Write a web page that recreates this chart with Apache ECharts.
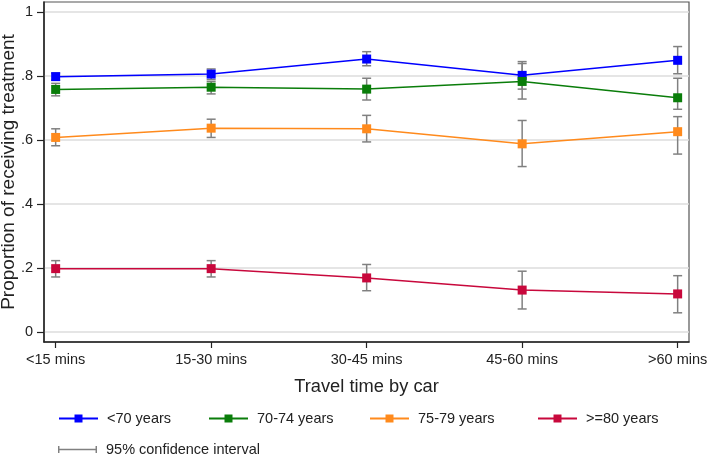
<!DOCTYPE html>
<html>
<head>
<meta charset="utf-8">
<script src="https://cdn.jsdelivr.net/npm/echarts@6/dist/echarts.min.js"></script>
<style>html,body{margin:0;padding:0;background:#fff;}#c{width:709px;height:461px;}</style>
</head>
<body>
<div id="c"></div>
<script>
var categories = ['<15 mins', '15-30 mins', '30-45 mins', '45-60 mins', '>60 mins'];
var yTicks = [0, 0.2, 0.4, 0.6, 0.8, 1];
var yTickLabels = ['0', '.2', '.4', '.6', '.8', '1'];

var ageNames = ['<70 years', '70-74 years', '75-79 years', '>=80 years'];
var ciName = '95% confidence interval';

var lt70   = [0.798, 0.806, 0.853, 0.802, 0.849];
var lt70Lo = [0.787, 0.789, 0.832, 0.759, 0.807];
var lt70Hi = [0.809, 0.822, 0.876, 0.845, 0.892];

var a7074   = [0.758, 0.765, 0.759, 0.783, 0.732];
var a7074Lo = [0.738, 0.744, 0.725, 0.728, 0.696];
var a7074Hi = [0.777, 0.783, 0.793, 0.839, 0.793];

var a7579   = [0.608, 0.637, 0.635, 0.588, 0.626];
var a7579Lo = [0.582, 0.608, 0.594, 0.517, 0.556];
var a7579Hi = [0.635, 0.665, 0.677, 0.661, 0.673];

var ge80   = [0.198, 0.198, 0.169, 0.131, 0.119];
var ge80Lo = [0.172, 0.172, 0.129, 0.072, 0.060];
var ge80Hi = [0.223, 0.223, 0.211, 0.190, 0.176];

var colors = ['#0000ff', '#0a7d0a', '#ff8a1c', '#c8083c'];
var FONT = '"Liberation Sans", Arial, sans-serif';

var groups = [
  {name: ageNames[0], v: lt70, lo: lt70Lo, hi: lt70Hi},
  {name: ageNames[1], v: a7074, lo: a7074Lo, hi: a7074Hi},
  {name: ageNames[2], v: a7579, lo: a7579Lo, hi: a7579Hi},
  {name: ageNames[3], v: ge80, lo: ge80Lo, hi: ge80Hi}
];

var xIdx = categories.map(function (c, i) { return i; });

function errRender(params, api) {
  var x = api.value(0);
  var p1 = api.coord([x, api.value(1)]);
  var p2 = api.coord([x, api.value(2)]);
  var hw = 4.5;
  var st = {stroke: '#808080', lineWidth: 1.5, fill: null};
  return {
    type: 'group',
    children: [
      {type: 'line', shape: {x1: p1[0], y1: p1[1], x2: p2[0], y2: p2[1]}, style: st},
      {type: 'line', shape: {x1: p1[0] - hw, y1: p1[1], x2: p1[0] + hw, y2: p1[1]}, style: st},
      {type: 'line', shape: {x1: p2[0] - hw, y1: p2[1], x2: p2[0] + hw, y2: p2[1]}, style: st}
    ]
  };
}

var series = [];
groups.forEach(function (g, k) {
  series.push({
    type: 'custom',
    name: ciName,
    renderItem: errRender,
    itemStyle: {color: '#808080'},
    encode: {x: 0, y: [1, 2]},
    data: xIdx.map(function (i) { return [i, g.lo[i], g.hi[i]]; }),
    z: 2,
    silent: true
  });
});
groups.forEach(function (g, k) {
  series.push({
    type: 'line',
    name: g.name,
    data: xIdx.map(function (i) { return [i, g.v[i]]; }),
    symbol: 'rect',
    symbolSize: 9,
    color: colors[k],
    lineStyle: {width: 1.5, color: colors[k]},
    itemStyle: {color: colors[k]},
    z: 5,
    animation: false
  });
});

var legendXs = [58, 208, 369, 537];
var legends = ageNames.map(function (n, k) {
  return {
    data: [n], left: legendXs[k], top: 411, padding: 0,
    itemWidth: 39, itemHeight: 10,
    textStyle: {fontFamily: FONT, fontSize: 14.5, color: '#222', padding: [0, 0, 0, 4]},
    selectedMode: false
  };
});
legends.push({
  data: [{name: ciName, icon: 'path://M0,1.5h1.5v7h-1.5z M0,4.25h40v1.5h-40z M38.5,1.5h1.5v7h-1.5z', itemStyle: {color: '#808080'}}],
  left: 58, top: 442, padding: 0, itemWidth: 39, itemHeight: 10,
  textStyle: {fontFamily: FONT, fontSize: 14.5, color: '#222', padding: [0, 0, 0, 4]},
  selectedMode: false
});

var option = {
  animation: false,
  backgroundColor: '#fff',
  textStyle: {fontFamily: FONT},
  grid: {left: 44, right: 20, top: 2, bottom: 119, show: true, borderColor: '#555', borderWidth: 1.2,
         containLabel: false, outerBoundsMode: 'none'},
  legend: legends,
  xAxis: {
    type: 'value',
    min: -0.075, max: 4.073,
    name: 'Travel time by car',
    nameLocation: 'middle',
    nameGap: 36,
    nameMoveOverlap: false,
    nameTextStyle: {fontFamily: FONT, fontSize: 18.3, color: '#222'},
    axisLine: {onZero: false, lineStyle: {color: '#222', width: 1.5}},
    axisTick: {show: true, length: 6, lineStyle: {color: '#222', width: 1.2}, customValues: xIdx},
    axisLabel: {
      customValues: xIdx,
      margin: 10,
      fontFamily: FONT, fontSize: 14.5, color: '#222',
      formatter: function (v) { return categories[Math.round(v)]; }
    },
    splitLine: {show: false}
  },
  yAxis: {
    type: 'value',
    min: -0.03125, max: 1.03125,
    name: 'Proportion of receiving treatment',
    nameLocation: 'middle',
    nameGap: 25.5,
    nameMoveOverlap: false,
    nameTextStyle: {fontFamily: FONT, fontSize: 19, color: '#222'},
    axisLine: {show: true, onZero: false, lineStyle: {color: '#222', width: 1.5}},
    axisTick: {show: true, length: 7, lineStyle: {color: '#222', width: 1.2}, customValues: yTicks},
    axisLabel: {
      customValues: yTicks,
      margin: 11,
      fontFamily: FONT, fontSize: 14.5, color: '#222',
      formatter: function (v) {
        var idx = yTicks.findIndex(function (t) { return Math.abs(t - v) < 1e-6; });
        return idx >= 0 ? yTickLabels[idx] : '';
      }
    },
    splitLine: {show: true, lineStyle: {color: '#dcdcdc', width: 1.5}}
  },
  series: series
};

var chart = echarts.init(document.getElementById('c'), null, {renderer: 'canvas'});
chart.setOption(option);
</script>
</body>
</html>
